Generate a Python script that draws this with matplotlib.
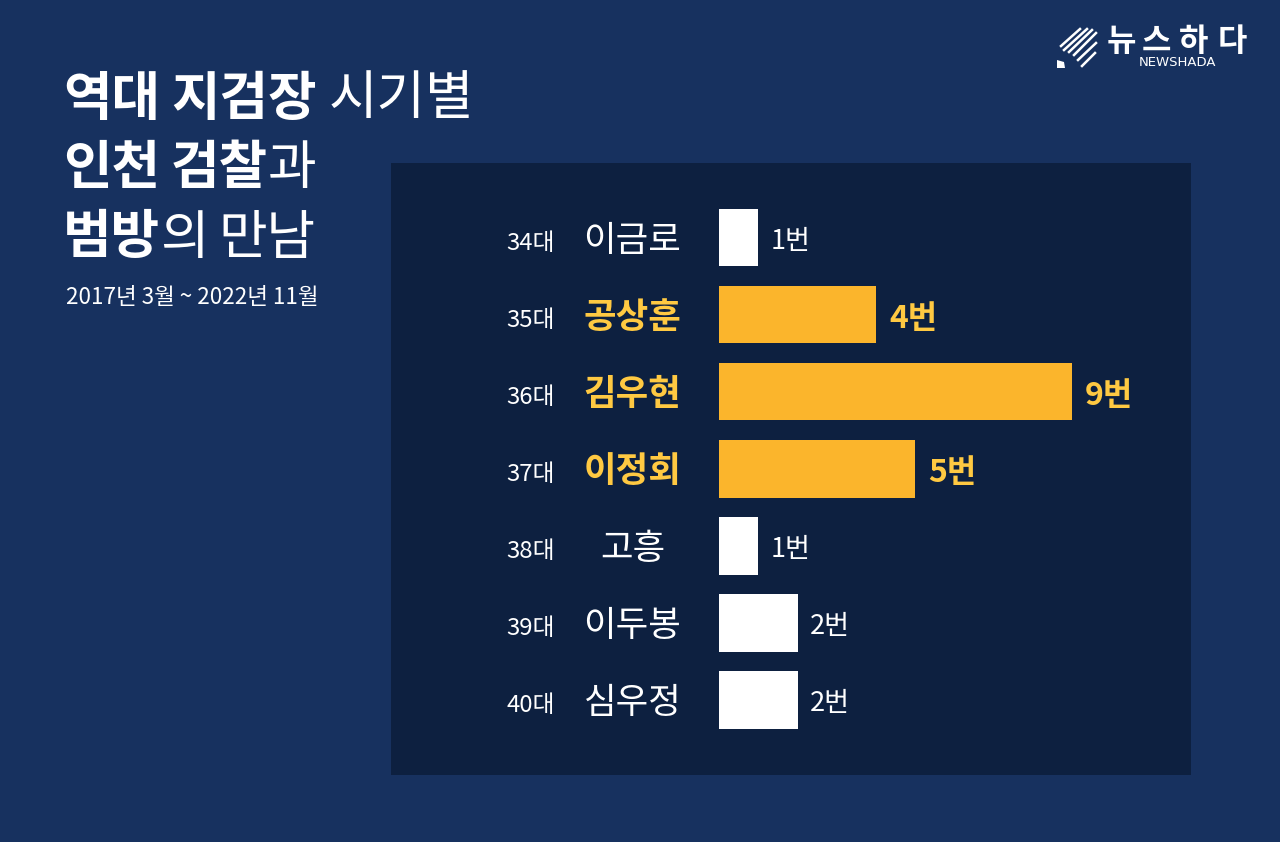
import matplotlib
matplotlib.use("Agg")
import matplotlib.pyplot as plt
from matplotlib.patches import Rectangle, Polygon
from matplotlib.lines import Line2D

plt.rcParams['font.family'] = ['Noto Sans CJK KR', 'DejaVu Sans']

terms = ['34대', '35대', '36대', '37대', '38대', '39대', '40대']
names = ['이금로', '공상훈', '김우현', '이정회', '고흥', '이두봉', '심우정']
counts = [1, 4, 9, 5, 1, 2, 2]
highlight = [False, True, True, True, False, False, False]
title_parts = [
    [('역대', 63, 'bold'), ('지검장', 171, 'bold'), ('시기별', 329, 'normal')],
    [('인천', 63, 'bold'), ('검찰', 171, 'bold'), ('과', 268, 'normal')],
    [('범방', 63, 'bold'), ('의', 160, 'normal'), ('만남', 218, 'normal')],
]
subtitle = '2017년 3월 ~ 2022년 11월'
logo_chars = [('뉴', 1121), ('스', 1156), ('하', 1194), ('다', 1232)]

W, H = 1280, 842
BG = '#17315F'
PANEL = '#0D2040'
ORANGE = '#FBB52C'
GOLD = '#FFC942'
WHITE = '#FFFFFF'

fig = plt.figure(figsize=(W / 100, H / 100), dpi=100, facecolor=BG)

def fx(x):
    return x / W

def fy(y):
    return 1 - y / H

fig.patches.append(Rectangle((fx(391), fy(775)), 800 / W, 612 / H, transform=fig.transFigure,
                             facecolor=PANEL, edgecolor='none', zorder=-1))

PX_PER_UNIT = 39.25
ROW = 77.08
top_px, bot_px = 198.96, 738.54
ax = fig.add_axes([fx(719), fy(bot_px), (1191 - 719) / W, (bot_px - top_px) / H])
ax.set_zorder(2)
ax.patch.set_alpha(0)
ax.set_xlim(0, (1191 - 719) / PX_PER_UNIT)
ax.set_ylim(len(names) - 0.5, -0.5)
ax.axis('off')

ys = list(range(len(names)))
colors = [ORANGE if h else WHITE for h in highlight]
ax.barh(ys, counts, height=57.5 / ROW, color=colors, linewidth=0)

for y, term, name, c, h in zip(ys, terms, names, counts, highlight):
    yp = 237.5 + y * ROW
    fig.text(fx(531), fy(yp + 6), term, color=WHITE, fontsize=17.2, ha='center', va='center')
    fig.text(fx(632.5), fy(yp + 3), name, color=GOLD if h else WHITE, fontsize=25.5,
             ha='center', va='center', fontweight='bold' if h else 'normal')
    ax.annotate(f'{c}번', xy=(c, y), xytext=(12.5 if not h else 13, -4), textcoords='offset pixels',
                color=GOLD if h else WHITE, fontsize=19.5 if not h else 23, ha='left', va='center',
                fontweight='bold' if h else 'normal')

for row, parts in enumerate(title_parts):
    yp = 99 + row * 69.5
    for txt, x, weight in parts:
        fig.text(fx(x), fy(yp), txt, color=WHITE, fontsize=38, fontweight=weight,
                 ha='left', va='center')

fig.text(fx(65.5), fy(297), subtitle, color=WHITE, fontsize=16.2, ha='left', va='center')

# logo
for (x0, y0, x1, y1) in [(1061, 46, 1080, 29), (1064, 50, 1087, 29), (1069, 52, 1092, 30),
                         (1074, 55, 1096, 33), (1078, 60, 1096, 43), (1082, 66, 1095, 53)]:
    fig.add_artist(Line2D([fx(x0), fx(x1)], [fy(y0), fy(y1)], color=WHITE, lw=1.8,
                          transform=fig.transFigure))
fig.add_artist(Polygon([[fx(1057), fy(60)], [fx(1064), fy(62)], [fx(1065), fy(68)], [fx(1057), fy(68)]],
                       closed=True, facecolor=WHITE, edgecolor='none', transform=fig.transFigure))
for ch, x in logo_chars:
    fig.text(fx(x), fy(42), ch, color=WHITE, fontsize=23, fontweight='bold', ha='center', va='center')
fig.text(fx(1177), fy(63), 'NEWSHADA', color=WHITE, fontsize=9.5, family=['DejaVu Sans'],
         ha='center', va='center')

fig.savefig('out.png', dpi=100, facecolor=BG)
